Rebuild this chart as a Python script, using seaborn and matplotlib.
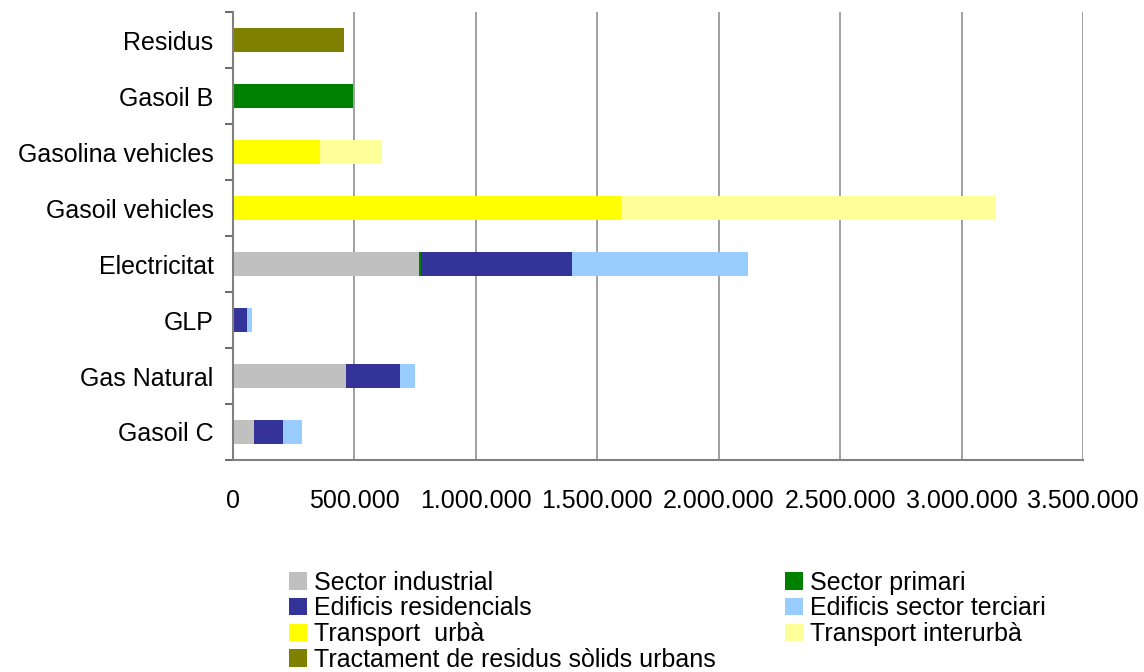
import seaborn as sns
import pandas as pd
import matplotlib.pyplot as plt
from matplotlib.patches import Patch
from matplotlib.ticker import FixedLocator

categories = ["Residus", "Gasoil B", "Gasolina vehicles", "Gasoil vehicles",
              "Electricitat", "GLP", "Gas Natural", "Gasoil C"]

industrial = [0, 0, 0, 0, 765000, 0, 465000, 86000]
primari = [0, 494000, 0, 0, 8000, 0, 0, 0]
residencials = [0, 0, 0, 0, 621000, 58000, 222000, 119000]
terciari = [0, 0, 0, 0, 728000, 20000, 62000, 78000]
urba = [0, 0, 358000, 1597000, 0, 0, 0, 0]
interurba = [0, 0, 255000, 1543000, 0, 0, 0, 0]
residus_urbans = [457000, 0, 0, 0, 0, 0, 0, 0]

series_names = ["Sector industrial", "Sector primari", "Edificis residencials",
                "Edificis sector terciari", "Transport  urbà", "Transport interurbà",
                "Tractament de residus sòlids urbans"]
series_vals = [industrial, primari, residencials, terciari, urba, interurba, residus_urbans]
colors = ["#c0c0c0", "#008000", "#333399", "#99ccff", "#ffff00", "#ffff99", "#808000"]

xticks = [0, 500000, 1000000, 1500000, 2000000, 2500000, 3000000, 3500000]

sns.set_style("white")
plt.rcParams['font.family'] = ['Liberation Sans', 'DejaVu Sans']
plt.rcParams['text.color'] = 'black'
plt.rcParams['xtick.color'] = 'black'
plt.rcParams['ytick.color'] = 'black'
fs = 18

fig = plt.figure(figsize=(11.44, 6.72), dpi=100)
ax = fig.add_axes([0.2037, 0.3155, 0.743, 0.6665])
ax.set_axisbelow(True)

df = pd.DataFrame({"cat": categories})
cum = [0] * len(categories)
cums = []
for vals in series_vals:
    cum = [a + b for a, b in zip(cum, vals)]
    cums.append(cum)

# draw cumulative totals from the outermost segment inward so they stack
for i in range(len(series_vals) - 1, -1, -1):
    df["v"] = cums[i]
    sns.barplot(data=df, x="v", y="cat", orient="h", color=colors[i],
                saturation=1, width=0.44, ax=ax, linewidth=0)

ax.set_xlim(0, 3500000)
ax.set_ylim(7.5, -0.5)
ax.set_xticks(xticks)
ax.set_xticklabels([f"{v:,}".replace(",", ".") for v in xticks], fontsize=fs)
ax.tick_params(axis="x", length=6, width=1, color="#808080", pad=15, direction="out")
ax.tick_params(axis="y", length=0, pad=14, labelsize=fs)
ax.yaxis.set_minor_locator(FixedLocator([i + 0.5 for i in range(-1, 8)]))
ax.tick_params(axis="y", which="minor", length=6, width=1.5, color="#707070", left=True)
ax.set_xlabel("")
ax.set_ylabel("")
ax.grid(axis="x", color="#909090", linewidth=1.2)
ax.grid(axis="y", visible=False)
for s in ["top", "right"]:
    ax.spines[s].set_visible(False)
for s in ["left", "bottom"]:
    ax.spines[s].set_color("#808080")
    ax.spines[s].set_linewidth(1.5)

handles = [Patch(facecolor=c, edgecolor="none") for c in colors]
order = [0, 2, 4, 6, 1, 3, 5]
fig.legend([handles[i] for i in order], [series_names[i] for i in order],
           loc="upper left", bbox_to_anchor=(0.253, 0.151), ncol=2, frameon=False,
           fontsize=fs, handlelength=0.7, handleheight=0.7, handletextpad=0.3,
           labelspacing=0.07, columnspacing=2.76, borderaxespad=0, borderpad=0)

fig.savefig("out.png", dpi=100)
